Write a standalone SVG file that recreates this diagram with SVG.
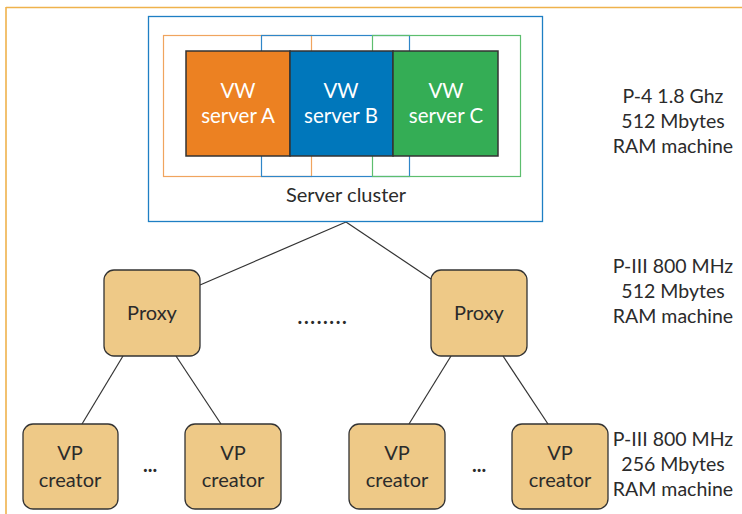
<svg xmlns="http://www.w3.org/2000/svg" width="742" height="514" viewBox="0 0 742 514">
<style>
text{font-family:Lato,"Open Sans","Liberation Sans",sans-serif;font-size:20px;fill:#2b2b2b;text-anchor:middle}
.w{fill:#ffffff;font-size:20.5px}
.node{fill:#EEC987;stroke:#333;stroke-width:1.3}
.srv{stroke:#333;stroke-width:1.5}
.conn line{stroke:#333;stroke-width:1.2}
.spec{font-size:19.5px}
</style>
<rect width="742" height="514" fill="#fff"/>
<g id="frame">
<line x1="6" y1="7.5" x2="742" y2="7.5" stroke="#EFB24C" stroke-width="1.6"/>
<line x1="6" y1="7" x2="6" y2="514" stroke="#EFB24C" stroke-width="1.6"/>
</g>
<g class="conn" id="connectors">
<line x1="346" y1="222" x2="200" y2="285"/>
<line x1="346" y1="222" x2="431" y2="279"/>
<line x1="123" y1="356" x2="82" y2="424"/>
<line x1="176" y1="356" x2="221" y2="424"/>
<line x1="451" y1="356" x2="409" y2="424"/>
<line x1="503" y1="356" x2="548" y2="424"/>
</g>
<g id="server-cluster">
<rect x="148.5" y="16.5" width="394" height="205" fill="none" stroke="#1E7FC4" stroke-width="1.3"/>
<rect x="163.5" y="35.5" width="148" height="141" fill="none" stroke="#F0A45E" stroke-width="1.2"/>
<rect x="261.5" y="35.5" width="148" height="141" fill="none" stroke="#2F86C8" stroke-width="1.2"/>
<rect x="372.5" y="35.5" width="148" height="141" fill="none" stroke="#5DBE6E" stroke-width="1.2"/>
<text x="346" y="202">Server cluster</text>
</g>
<g id="server-a">
<rect class="srv" x="186" y="51" width="104" height="105" fill="#EC8122"/>
<text class="w" x="238" y="98">VW</text>
<text class="w" x="238" y="123">server A</text>
</g>
<g id="server-b">
<rect class="srv" x="290" y="51" width="103" height="105" fill="#0077BB"/>
<text class="w" x="341" y="98">VW</text>
<text class="w" x="341" y="123">server B</text>
</g>
<g id="server-c">
<rect class="srv" x="393" y="51" width="105" height="105" fill="#34AD55"/>
<text class="w" x="446" y="98">VW</text>
<text class="w" x="446" y="123">server C</text>
</g>
<g id="proxy-1">
<rect class="node" x="104" y="270" width="96" height="86" rx="10"/>
<text x="152" y="320">Proxy</text>
</g>
<g id="proxy-2">
<rect class="node" x="431" y="270" width="96" height="86" rx="10"/>
<text x="479" y="320">Proxy</text>
</g>
<text x="323" y="324" style="font-size:20px;font-weight:bold;letter-spacing:1.6px">........</text>
<g id="vp-1">
<rect class="node" x="23" y="424" width="95" height="85" rx="10"/>
<text x="70" y="460">VP</text>
<text x="70" y="487">creator</text>
</g>
<g id="vp-2">
<rect class="node" x="185" y="424" width="96" height="85" rx="10"/>
<text x="233" y="460">VP</text>
<text x="233" y="487">creator</text>
</g>
<g id="vp-3">
<rect class="node" x="349" y="424" width="96" height="85" rx="10"/>
<text x="397" y="460">VP</text>
<text x="397" y="487">creator</text>
</g>
<g id="vp-4">
<rect class="node" x="512" y="424" width="96" height="85" rx="10"/>
<text x="560" y="460">VP</text>
<text x="560" y="487">creator</text>
</g>
<text x="150" y="472" style="font-size:20px;font-weight:bold">...</text>
<text x="479" y="472" style="font-size:20px;font-weight:bold">...</text>
<g id="spec-server" class="spec">
<text class="spec" x="673" y="103">P-4 1.8 Ghz</text>
<text class="spec" x="673" y="128">512 Mbytes</text>
<text class="spec" x="673" y="153">RAM machine</text>
</g>
<g id="spec-proxy">
<text class="spec" x="673" y="273">P-III 800 MHz</text>
<text class="spec" x="673" y="298">512 Mbytes</text>
<text class="spec" x="673" y="323">RAM machine</text>
</g>
<g id="spec-vp">
<text class="spec" x="673" y="446">P-III 800 MHz</text>
<text class="spec" x="673" y="471">256 Mbytes</text>
<text class="spec" x="673" y="496">RAM machine</text>
</g>
</svg>
